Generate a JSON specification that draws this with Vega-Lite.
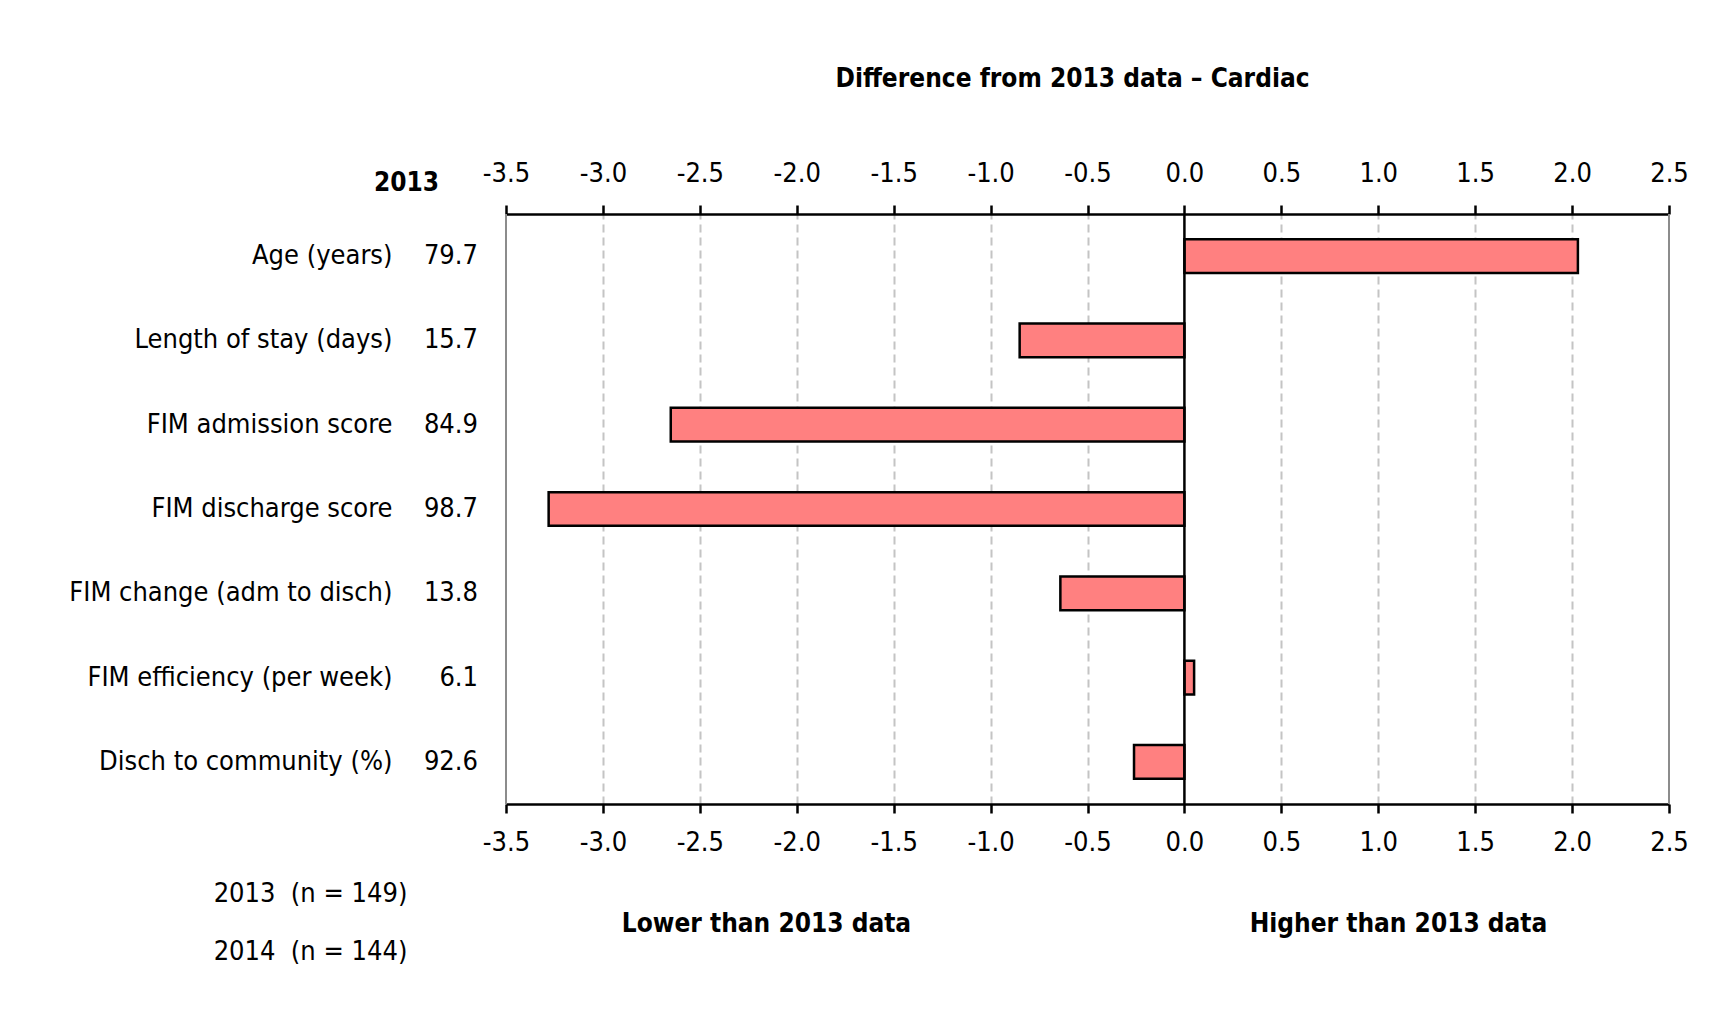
{
  "$schema": "https://vega.github.io/schema/vega-lite/v6.json",
  "width": 1163,
  "height": 590,
  "autosize": {"type": "none"},
  "padding": {"left": 506, "top": 214, "right": 43, "bottom": 218},
  "background": "white",
  "config": {
    "view": {"stroke": null},
    "font": "'Liberation Sans Narrow', 'DejaVu Sans Condensed', sans-serif",
    "axis": {
      "labelFont": "'Liberation Sans Narrow', 'DejaVu Sans Condensed', sans-serif",
      "titleFont": "'Liberation Sans Narrow', 'DejaVu Sans Condensed', sans-serif",
      "labelFontSize": 27,
      "titleFontSize": 26,
      "labelColor": "black",
      "titleColor": "black"
    }
  },
  "datasets": {
    "rows": [
      {"metric": "Age (years)", "v2013": "79.7", "diff": 2.03},
      {"metric": "Length of stay (days)", "v2013": "15.7", "diff": -0.85},
      {"metric": "FIM admission score", "v2013": "84.9", "diff": -2.65},
      {"metric": "FIM discharge score", "v2013": "98.7", "diff": -3.28},
      {"metric": "FIM change (adm to disch)", "v2013": "13.8", "diff": -0.64},
      {"metric": "FIM efficiency (per week)", "v2013": "6.1", "diff": 0.05},
      {"metric": "Disch to community (%)", "v2013": "92.6", "diff": -0.26}
    ],
    "edges": [{"edge": -3.5}, {"edge": 2.5}],
    "zero": [{"z": 0}]
  },
  "layer": [
    {
      "data": {"name": "edges"},
      "mark": {"type": "rule", "color": "#8c8c8c", "strokeWidth": 2},
      "encoding": {
        "x": {
          "field": "edge",
          "type": "quantitative",
          "scale": {"domain": [-3.5, 2.5], "nice": false},
          "axis": {
            "orient": "bottom",
            "values": [-3.5, -3, -2.5, -2, -1.5, -1, -0.5, 0, 0.5, 1, 1.5, 2, 2.5],
            "labelExpr": "replace(format(datum.value, '.1f'), '\u2212', '-')",
            "grid": true,
            "gridColor": {"condition": {"test": "datum.value == -3.5 || datum.value == 2.5 || datum.value == 0", "value": "transparent"}, "value": "#c4c4c4"},
            "gridDash": [8, 5],
            "gridWidth": 2,
            "domainColor": "black",
            "domainWidth": 2.5,
            "tickColor": "black",
            "tickWidth": 2.5,
            "tickSize": 9,
            "labelPadding": 16,
            "labelFlush": false,
            "labelOverlap": false,
            "title": "Lower than 2013 data",
            "titleFontWeight": "bold",
            "titleX": 260,
            "titleY": 119,
            "titleAlign": "center",
            "titleBaseline": "middle"
          }
        }
      }
    },
    {
      "data": {"name": "rows"},
      "mark": {"type": "bar", "fill": "#FF8080", "stroke": "black", "strokeWidth": 2.5},
      "encoding": {
        "y": {
          "field": "metric",
          "type": "nominal",
          "sort": null,
          "scale": {"paddingInner": 0.6, "paddingOuter": 0.3},
          "axis": {
            "orient": "left",
            "domain": false,
            "ticks": false,
            "grid": false,
            "labelPadding": 114,
            "labelAlign": "right",
            "labelBaseline": "middle",
            "labelLimit": 0,
            "title": ["2013\u00a0 (n = 149)", "2014\u00a0 (n = 144)"],
            "titleFontSize": 27,
            "titleAngle": 0,
            "titleX": -196,
            "titleY": 679,
            "titleAlign": "center",
            "titleBaseline": "middle",
            "titleFontWeight": "normal",
            "titleLineHeight": 58
          }
        },
        "x": {
          "field": "diff",
          "type": "quantitative",
          "scale": {"domain": [-3.5, 2.5], "nice": false},
          "axis": {
            "orient": "top",
            "values": [-3.5, -3, -2.5, -2, -1.5, -1, -0.5, 0, 0.5, 1, 1.5, 2, 2.5],
            "labelExpr": "replace(format(datum.value, '.1f'), '\u2212', '-')",
            "grid": false,
            "domainColor": "black",
            "domainWidth": 2.5,
            "tickColor": "black",
            "tickWidth": 2.5,
            "tickSize": 9,
            "labelPadding": 18,
            "labelFlush": false,
            "labelOverlap": false,
            "title": "Difference from 2013 data \u2013 Cardiac",
            "titleFontWeight": "bold",
            "titleX": 566,
            "titleY": -136,
            "titleAlign": "center",
            "titleBaseline": "middle"
          }
        },
        "x2": {"datum": 0}
      }
    },
    {
      "data": {"name": "rows"},
      "mark": {"type": "text", "align": "right", "baseline": "middle", "dx": -28, "fontSize": 27, "font": "'Liberation Sans Narrow', 'DejaVu Sans Condensed', sans-serif", "color": "black"},
      "encoding": {
        "y": {
          "field": "metric",
          "type": "nominal",
          "sort": null,
          "scale": {"paddingInner": 0.6, "paddingOuter": 0.3},
          "axis": {
            "orient": "left",
            "labels": false,
            "domain": false,
            "ticks": false,
            "grid": false,
            "title": "2013",
            "titleAngle": 0,
            "titleX": -100,
            "titleY": -32,
            "titleAlign": "center",
            "titleBaseline": "middle",
            "titleFontWeight": "bold"
          }
        },
        "x": {"datum": -3.5, "type": "quantitative", "scale": {"domain": [-3.5, 2.5], "nice": false}, "axis": null},
        "text": {"field": "v2013"}
      }
    },
    {
      "data": {"name": "zero"},
      "mark": {"type": "rule", "color": "black", "strokeWidth": 2.5},
      "encoding": {
        "x": {
          "field": "z",
          "type": "quantitative",
          "scale": {"domain": [-3.5, 2.5], "nice": false},
          "axis": {
            "orient": "bottom",
            "labels": false,
            "ticks": false,
            "domain": false,
            "grid": false,
            "title": "Higher than 2013 data",
            "titleFontWeight": "bold",
            "titleX": 892,
            "titleY": 119,
            "titleAlign": "center",
            "titleBaseline": "middle"
          }
        }
      }
    }
  ],
  "resolve": {"axis": {"x": "independent", "y": "independent"}}
}
